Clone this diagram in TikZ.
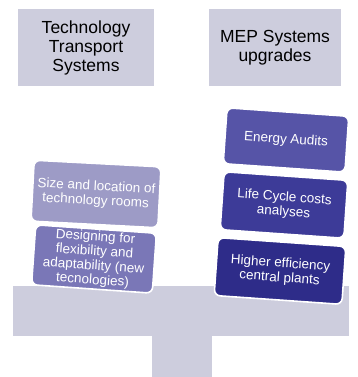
\documentclass[tikz,border=0pt]{standalone}
\usepackage{fontspec}
\setmainfont{Liberation Sans}

\definecolor{beamgray}{HTML}{CDCDDD}
\definecolor{tileA}{HTML}{9D9BC6}
\definecolor{tileB}{HTML}{7A77B7}
\definecolor{tileC}{HTML}{5654A7}
\definecolor{tileD}{HTML}{3D3B98}
\definecolor{tileE}{HTML}{2E2C89}

\begin{document}
\begin{tikzpicture}[
  x=1pt, y=-1pt,
  header/.style={fill=beamgray, minimum width=136pt, minimum height=77pt, inner sep=2pt,
    align=center, font=\fontsize{17.5}{19}\selectfont},
  tile/.style={fill=#1, draw=white, line width=1.6pt, rounded corners=6pt,
    minimum width=124pt, minimum height=58pt, inner sep=2pt, text=white, align=center,
    font=\fontsize{13.5}{14.5}\selectfont},
  slab/.style={fill=beamgray, inner sep=0pt}
]
\useasboundingbox (0,0) rectangle (358,377);

% === Headers ===
\node[header] (tech) at (86,47.5) {Technology\\Transport\\Systems};
\node[header, minimum width=132pt] (mep) at (275,47.5) {MEP Systems\\upgrades};

% === Balance (beam + stand) ===
\node[slab, minimum width=60pt, minimum height=42pt] (stand) at (182,356) {};
\node[slab, minimum width=336pt, minimum height=50pt] (beam) at (181,311) {};

% === Left pan ===
\node[tile=tileA, rotate=-3, minimum width=127pt, minimum height=61pt] (rooms) at (96,194)
  {Size and location of\\technology rooms};
\node[tile=tileB, rotate=-4, minimum width=121pt, minimum height=59pt] (flex) at (94,259)
  {Designing for\\flexibility and\\adaptability (new\\tecnologies)};

% === Right pan ===
\node[tile=tileC, rotate=-4, minimum width=122pt, minimum height=56pt] (audits) at (286,140)
  {Energy Audits};
\node[tile=tileD, rotate=-4] (lcc) at (284,205)
  {Life Cycle costs\\analyses};
\node[tile=tileE, rotate=-4, minimum width=128pt] (plants) at (280,271)
  {Higher efficiency\\central plants};

\end{tikzpicture}
\end{document}
